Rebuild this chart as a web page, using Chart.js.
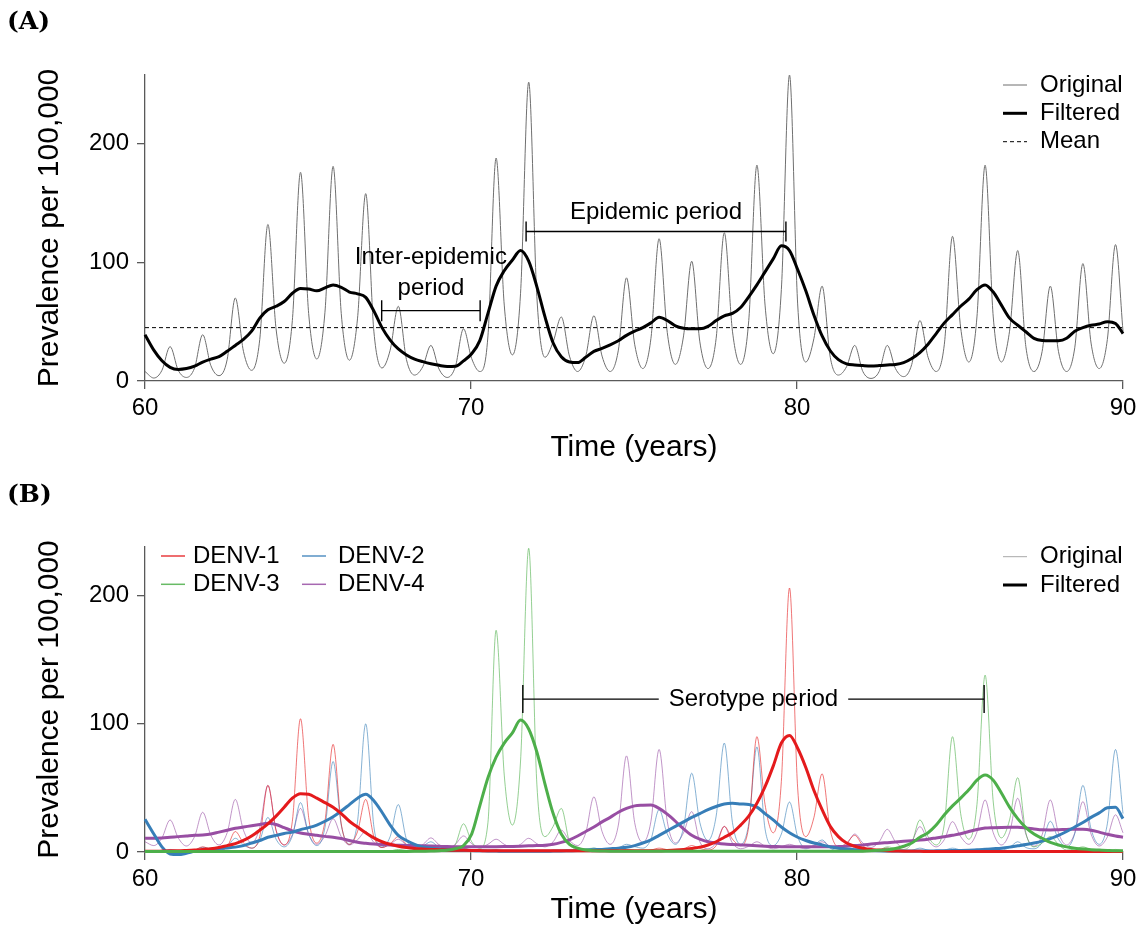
<!DOCTYPE html>
<html>
<head>
<meta charset="utf-8">
<title>Dengue prevalence</title>
<script src="https://cdn.jsdelivr.net/npm/chart.js@4.4.1/dist/chart.umd.min.js"></script>
<style>
  body { margin: 0; background: #fff; }
  canvas { display: block; }
</style>
</head>
<body>
<canvas id="panelA" width="1144" height="470"></canvas>
<canvas id="panelB" width="1144" height="456"></canvas>
<script>
// sample times (years), four per season: falling flank, trough, rising flank, peak
const t = [
  60.00, 60.27, 60.52, 60.77,
  61.02, 61.27, 61.52, 61.77,
  62.02, 62.27, 62.52, 62.77,
  63.02, 63.27, 63.52, 63.77,
  64.02, 64.27, 64.52, 64.77,
  65.02, 65.27, 65.52, 65.77,
  66.02, 66.27, 66.52, 66.77,
  67.02, 67.27, 67.52, 67.77,
  68.02, 68.27, 68.52, 68.77,
  69.02, 69.27, 69.52, 69.77,
  70.02, 70.27, 70.52, 70.77,
  71.02, 71.27, 71.52, 71.77,
  72.02, 72.27, 72.52, 72.77,
  73.02, 73.27, 73.52, 73.77,
  74.02, 74.27, 74.52, 74.77,
  75.02, 75.27, 75.52, 75.77,
  76.02, 76.27, 76.52, 76.77,
  77.02, 77.27, 77.52, 77.77,
  78.02, 78.27, 78.52, 78.77,
  79.02, 79.27, 79.52, 79.77,
  80.02, 80.27, 80.52, 80.77,
  81.02, 81.27, 81.52, 81.77,
  82.02, 82.27, 82.52, 82.77,
  83.02, 83.27, 83.52, 83.77,
  84.02, 84.27, 84.52, 84.77,
  85.02, 85.27, 85.52, 85.77,
  86.02, 86.27, 86.52, 86.77,
  87.02, 87.27, 87.52, 87.77,
  88.02, 88.27, 88.52, 88.77,
  89.02, 89.27, 89.52, 89.77,
  90.00
];

// (A) total prevalence per 100,000
const totalOriginal = [
  8, 2.5, 9, 29,
  9, 3, 11, 39,
  13, 4.5, 18, 70,
  25, 9, 35, 132,
  44, 15, 51, 176,
  57, 18.5, 58, 181,
  57, 17.5, 53, 158,
  42, 11, 26, 63,
  18, 5, 12, 30,
  10, 3, 12, 44,
  19, 8, 38, 188,
  64, 22, 74, 252,
  71, 20, 33, 54,
  21, 8, 21, 55,
  21, 8, 26, 87,
  31, 10.5, 36, 120,
  41, 14, 38, 101,
  33, 10.5, 36, 125,
  42, 14, 51, 182,
  64, 23, 77, 258,
  65, 16, 36, 80,
  20, 5, 12, 30,
  8, 2.2, 8, 30,
  10.5, 3.7, 14, 51,
  20, 8, 31, 122,
  45, 16, 54, 182,
  54, 16, 42, 110,
  29, 8, 25, 80,
  25, 8, 28, 99,
  32, 10.5, 35, 115,
  42
];
const totalFiltered = [
  39, 26, 17, 11.5,
  9.8, 10.5, 12.5, 16,
  18.5, 20.5, 25, 30,
  35, 42, 53, 60,
  63, 67, 74, 78,
  77.5, 76, 78.5, 81,
  79, 75, 73.5, 70.5,
  59, 45, 34.5, 27,
  22, 18.5, 16.3, 14.5,
  13.2, 12.3, 12.5, 17,
  23, 34, 57, 80,
  93, 102, 110, 101,
  79.6, 54, 32, 20.5,
  16, 15.5, 20, 25,
  27.5, 30.5, 34, 38.5,
  42, 45, 49, 53.7,
  51, 46.5, 44.5, 44,
  44, 46, 51, 55,
  57, 62, 71, 81,
  92, 103, 114, 110,
  94, 76, 55.5, 38,
  25.5, 18, 14.5, 13.5,
  13, 12.7, 13, 13.5,
  14, 15.5, 19, 24,
  31, 40, 49, 56,
  63, 69, 77, 81,
  75, 64, 53, 47,
  41.5, 36, 34.2, 34,
  34, 36, 42, 45,
  47, 48, 50, 48.5,
  40
];
const totalMean = 45;

// (B) prevalence by serotype
const denv1 = [
  1, 0.5, 0.7, 1,
  0.8, 0.5, 1.5, 4,
  2, 1, 4, 16,
  7, 3, 12, 52,
  17, 5.5, 24, 104,
  27, 7, 24, 84,
  22, 6, 16, 41,
  12, 3.5, 6.5, 12,
  6, 2, 3, 5,
  3, 1, 1.5, 2.5,
  1.5, 0.7, 1, 1.5,
  1, 0.5, 1, 1.5,
  1, 0.5, 0.8, 1,
  0.7, 0.5, 0.7, 1,
  0.7, 0.5, 1, 2,
  1.2, 0.7, 1.5, 3,
  1.8, 1, 2.2, 5,
  2.8, 1.5, 5, 20,
  10, 5, 20, 90,
  37, 15, 55, 206,
  50, 12, 27, 61,
  17, 4, 7, 13,
  5, 1.5, 2, 3,
  1.5, 0.5, 0.8, 1,
  0.6, 0.3, 0.4, 0.5,
  0.3, 0.2, 0.3, 0.4,
  0.3, 0.2, 0.3, 0.4,
  0.3, 0.2, 0.3, 0.4,
  0.3, 0.2, 0.3, 0.4,
  0.3, 0.2, 0.3, 0.4,
  0.3
];
const denv2 = [
  1, 0.5, 0.8, 2,
  1, 0.7, 1.5, 3.7,
  2.3, 1.5, 4, 10.7,
  5.5, 3, 9, 27,
  10, 4, 12.5, 38.5,
  14, 5, 19, 70.6,
  21, 6, 24, 100,
  20, 4, 12, 37,
  10, 2.5, 4.5, 8,
  3.5, 1, 1.7, 3,
  1.3, 0.5, 0.9, 1.5,
  0.8, 0.4, 0.6, 1,
  0.6, 0.4, 0.6, 1,
  0.8, 0.7, 1.4, 3,
  2.1, 1.5, 3, 6,
  4.2, 3, 10, 33,
  14, 6, 19, 61.5,
  23, 9, 28, 85,
  23, 6, 22, 82,
  18, 5, 14, 39,
  12, 3, 5.3, 9.4,
  3, 1, 1.7, 3,
  1.2, 0.5, 1.2, 3,
  1.2, 0.5, 1.2, 3,
  1.4, 0.7, 1.4, 3,
  1.6, 1, 1.7, 3,
  1.8, 1.5, 3.5, 8,
  3.5, 2.5, 7.7, 24,
  10, 4, 14.5, 52,
  18, 6, 22, 80,
  30
];
const denv3 = [
  0.3, 0.2, 0.2, 0.3,
  0.3, 0.2, 0.2, 0.3,
  0.3, 0.2, 0.2, 0.3,
  0.3, 0.2, 0.2, 0.3,
  0.3, 0.2, 0.2, 0.3,
  0.3, 0.2, 0.2, 0.3,
  0.3, 0.2, 0.3, 0.5,
  0.4, 0.3, 0.8, 2,
  1.2, 0.8, 1.8, 4,
  2.4, 1.5, 5.8, 22,
  8, 3, 23, 173,
  60, 21, 71, 237,
  53, 12, 20, 34,
  8, 2, 2.4, 3,
  1.5, 0.6, 0.8, 1,
  0.7, 0.4, 0.6, 0.8,
  0.7, 0.4, 0.6, 0.8,
  0.7, 0.4, 0.6, 0.8,
  0.7, 0.4, 0.6, 0.8,
  0.7, 0.4, 0.6, 0.8,
  0.7, 0.4, 0.6, 0.8,
  0.7, 0.4, 0.6, 0.8,
  0.6, 0.5, 1.4, 4,
  2.8, 2, 7, 25,
  12, 5.5, 22, 90,
  30, 10, 37, 138,
  39, 11, 25, 58,
  15, 4, 7, 12,
  6, 1.5, 2.4, 4,
  1.7, 0.7, 1.2, 2,
  1
];
const denv4 = [
  8, 5, 11, 25,
  11, 4.7, 12, 31,
  13, 5.5, 15, 41,
  17, 7, 19, 52,
  17, 5.5, 13.5, 34,
  14, 6, 12.5, 26,
  12, 5.5, 9.5, 16,
  7.5, 3.5, 6, 10,
  5.5, 3, 5.7, 11,
  5.7, 3, 6, 12.5,
  6.5, 3.5, 6, 10,
  6, 3.5, 6, 10.7,
  6.5, 4, 8, 17,
  9, 5, 15, 43,
  16, 6, 21, 75,
  23, 7.5, 24, 80,
  24, 7, 15, 31.5,
  8, 2.5, 7, 20,
  7, 2.5, 4.5, 8,
  4.5, 2.5, 4, 6,
  4, 2.5, 4.5, 8,
  4.5, 2.5, 6, 14,
  7, 3.5, 8, 17.7,
  8, 3.5, 8.3, 19.8,
  9, 4, 9.7, 23.7,
  12, 6, 15.6, 40.6,
  15, 5.5, 15, 41.9,
  14, 4.5, 13.5, 40.6,
  15, 5.5, 14.7, 39.3,
  14, 4.7, 11.7, 29,
  15
];
const denv1Filtered = [
  0.5, 0.5, 0.7, 1,
  1, 1.2, 1.5, 2,
  2.5, 3.5, 5, 6.5,
  9, 12.5, 17, 22,
  28, 35, 42, 45.5,
  45, 42, 38.5, 35,
  30, 24, 19.5, 15,
  11, 8, 6, 4.5,
  3.5, 2.8, 2.3, 2,
  1.8, 1.6, 1.4, 1.3,
  1.2, 1.1, 1, 1,
  1, 1, 1, 1,
  1, 1, 1, 1,
  1, 1, 1, 1,
  1, 1, 1, 1,
  1, 1, 1, 1,
  1.2, 1.5, 2, 2.8,
  3.8, 5.5, 8, 11.5,
  15, 21, 28, 38,
  51, 67, 85, 91,
  81, 66, 48, 33,
  20, 12, 7, 4.5,
  3, 2, 1.5, 1,
  0.8, 0.6, 0.5, 0.5,
  0.4, 0.4, 0.4, 0.4,
  0.4, 0.4, 0.4, 0.4,
  0.4, 0.4, 0.4, 0.4,
  0.4, 0.4, 0.4, 0.4,
  0.4, 0.4, 0.4, 0.4,
  0.4, 0.4, 0.4, 0.4,
  0.4
];
const denv2Filtered = [
  25.5, 14, 4, -1.5,
  -2, -1, 0.5, 1.5,
  2.2, 2.7, 3.2, 3.8,
  5, 7, 9, 11.5,
  13, 14.5, 15.5, 17.5,
  19, 21, 24, 27.5,
  32, 37, 42, 45,
  40, 31, 21, 13,
  9, 6, 4, 3,
  2.4, 2, 1.6, 1.3,
  1.1, 1, 0.8, 0.7,
  0.6, 0.6, 0.6, 0.6,
  0.6, 0.6, 0.7, 0.8,
  1, 1.2, 1.5, 1.8,
  2, 2.5, 3, 3.7,
  5, 7, 9.5, 13,
  16.5, 20, 23.5, 27,
  30, 33, 35.5, 37.5,
  38, 37.5, 37, 35,
  30, 25, 19.5, 15,
  11.5, 9, 7, 5.5,
  4, 3, 2.3, 1.8,
  1.4, 1.1, 0.9, 0.8,
  0.7, 0.7, 0.7, 0.8,
  0.8, 0.9, 1, 1.1,
  1.2, 1.4, 1.7, 2,
  2.5, 3, 3.8, 4.8,
  5.8, 7, 8.5, 10.5,
  13, 16, 19.5, 23,
  27, 30.5, 34.5, 35,
  26
];
const denv3Filtered = [
  0.3, 0.3, 0.3, 0.3,
  0.3, 0.3, 0.3, 0.3,
  0.3, 0.3, 0.3, 0.3,
  0.3, 0.3, 0.3, 0.3,
  0.3, 0.3, 0.3, 0.3,
  0.3, 0.3, 0.3, 0.3,
  0.3, 0.3, 0.3, 0.3,
  0.3, 0.3, 0.3, 0.3,
  0.4, 0.5, 0.6, 0.7,
  1, 1.4, 2.5, 5,
  14, 36, 58, 74,
  85, 93, 103, 96,
  78, 53, 30, 14,
  6, 3, 1.5, 1,
  0.8, 0.6, 0.5, 0.5,
  0.5, 0.5, 0.5, 0.5,
  0.5, 0.5, 0.5, 0.5,
  0.5, 0.5, 0.5, 0.5,
  0.5, 0.5, 0.5, 0.5,
  0.5, 0.5, 0.5, 0.5,
  0.5, 0.5, 0.5, 0.5,
  0.5, 0.5, 0.5, 0.5,
  0.6, 0.9, 1.3, 1.8,
  2.8, 4.5, 7, 11.5,
  15, 21, 29, 36,
  42, 48.5, 56, 60,
  56, 46, 35, 26,
  19, 14, 10.7, 7.5,
  5.5, 4, 3, 2.3,
  1.8, 1.5, 1.2, 1,
  1
];
const denv4Filtered = [
  10.7, 10.8, 11, 11.5,
  12, 12.5, 13, 13.3,
  14, 15.5, 17, 18.5,
  19.5, 20.5, 21.5, 22.5,
  21.5, 19, 16.5, 14.8,
  13.8, 13, 12.2, 11.5,
  10.5, 9, 7.6, 6.8,
  6.2, 5.8, 5.5, 5.3,
  5.1, 5, 4.8, 4.6,
  4.4, 4.2, 4.1, 4,
  4, 4, 4, 4.1,
  4.2, 4.3, 4.5, 4.8,
  5, 5.3, 6, 7.5,
  9.5, 12.5, 16, 19.5,
  23.5, 27, 31, 34,
  36, 36.5, 36.7, 34,
  29.5, 24, 18, 13,
  10, 8, 7, 6.2,
  5.8, 5.5, 5.2, 4.8,
  4.5, 4.3, 4.1, 4,
  4, 4, 4, 4,
  4, 4.2, 4.5, 5,
  5.5, 6.2, 6.8, 7.3,
  7.8, 8.3, 8.8, 9.3,
  10, 11, 12, 13,
  14.2, 16, 17.5, 18.7,
  19, 19.2, 19.3, 19.3,
  18.8, 18, 17.3, 17.2,
  17.4, 17.6, 17.8, 17.7,
  17, 15.5, 13.8, 12.5,
  11.5
];

const xTicks = [60, 70, 80, 90];
const yTicks = [0, 100, 200];

const FONT = '"Liberation Sans", Arial, Helvetica, sans-serif';
const AXIS = '#5a5a5a';
const RED = '#e41a1c', BLUE = '#377eb8', GREEN = '#4daf4a', PURPLE = '#984ea3';

const pts = ys => t.map((x, i) => ({ x: x, y: ys[i] }));

function fade(hex, a) {
  const n = parseInt(hex.slice(1), 16);
  return `rgba(${n >> 16}, ${(n >> 8) & 255}, ${n & 255}, ${a})`;
}

function line(data, color, width, extra) {
  return Object.assign({ data: data, borderColor: color, borderWidth: width, clip: false }, extra || {});
}

// horizontal bracket with end ticks, optionally broken around a label
function bracket(c, b) {
  const ctx = c.ctx;
  const x0 = c.scales.x.getPixelForValue(b.from);
  const x1 = c.scales.x.getPixelForValue(b.to);
  const y = c.scales.y.getPixelForValue(b.at);
  const mid = (x0 + x1) / 2;
  ctx.save();
  ctx.strokeStyle = '#000';
  ctx.lineWidth = 1.4;
  ctx.font = `24px ${FONT}`;
  ctx.beginPath();
  ctx.moveTo(x0, y - b.tick); ctx.lineTo(x0, y + b.tick);
  ctx.moveTo(x1, y - b.tick); ctx.lineTo(x1, y + b.tick);
  if (b.inline) {
    const w = ctx.measureText(b.inline).width / 2 + 10;
    ctx.moveTo(x0, y); ctx.lineTo(mid - w, y);
    ctx.moveTo(mid + w, y); ctx.lineTo(x1, y);
  } else {
    ctx.moveTo(x0, y); ctx.lineTo(x1, y);
  }
  ctx.stroke();
  ctx.fillStyle = '#000';
  ctx.textAlign = 'center';
  ctx.textBaseline = 'middle';
  if (b.inline) ctx.fillText(b.inline, mid, y);
  (b.above || []).forEach(([text, dy]) => ctx.fillText(text, mid, y + dy));
  ctx.restore();
}

function legendRow(ctx, x, y, textX, label, color, width, dash) {
  ctx.save();
  ctx.strokeStyle = color;
  ctx.lineWidth = width;
  ctx.setLineDash(dash || []);
  ctx.beginPath();
  ctx.moveTo(x, y); ctx.lineTo(x + 24, y);
  ctx.stroke();
  ctx.setLineDash([]);
  ctx.fillStyle = '#000';
  ctx.font = `24px ${FONT}`;
  ctx.textAlign = 'left';
  ctx.textBaseline = 'middle';
  ctx.fillText(label, textX, y);
  ctx.restore();
}

function panelLabel(ctx, text, y) {
  ctx.save();
  ctx.fillStyle = '#000';
  ctx.font = 'bold 25px "DejaVu Serif", "Liberation Serif", serif';
  ctx.textAlign = 'left';
  ctx.textBaseline = 'middle';
  ctx.fillText(text, 7, y);
  ctx.restore();
}

function makePanel(id, cfg) {
  return new Chart(document.getElementById(id), {
    type: 'line',
    data: { datasets: cfg.datasets },
    options: {
      responsive: false,
      animation: false,
      layout: { padding: { top: cfg.top, right: 21, left: 0, bottom: 0 } },
      elements: {
        point: { radius: 0 },
        line: { cubicInterpolationMode: 'monotone', tension: 0.4 }
      },
      plugins: { legend: { display: false }, tooltip: { enabled: false } },
      scales: {
        x: {
          type: 'linear', min: 60, max: 90,
          afterFit: s => { s.height = cfg.xHeight; },
          afterBuildTicks: s => { s.ticks = xTicks.map(v => ({ value: v })); },
          grid: { drawOnChartArea: false, drawTicks: true, tickLength: 8, color: AXIS, lineWidth: 1.3 },
          border: { display: true, color: AXIS, width: 1.3 },
          ticks: { color: '#000', font: { family: FONT, size: 24 }, padding: 5, maxRotation: 0 },
          title: {
            display: true, text: 'Time (years)', color: '#000',
            font: { family: FONT, size: 30, lineHeight: 1 },
            padding: { top: 0, bottom: cfg.xTitlePad }
          }
        },
        y: {
          type: 'linear', min: 0, max: cfg.yMax,
          afterFit: s => { s.width = 145; },
          afterBuildTicks: s => { s.ticks = yTicks.map(v => ({ value: v })); },
          grid: { drawOnChartArea: false, drawTicks: true, tickLength: 8, color: AXIS, lineWidth: 1.3 },
          border: { display: true, color: AXIS, width: 1.3 },
          ticks: { color: '#000', font: { family: FONT, size: 24 }, padding: 8 },
          title: {
            display: true, text: 'Prevalence per 100,000', color: '#000',
            font: { family: FONT, size: 30, lineHeight: 1 },
            padding: { top: 35, bottom: 0 }
          }
        }
      }
    },
    plugins: [{ id: id + 'Notes', afterDraw: cfg.notes }]
  });
}

// (A) total prevalence with its filtered trend
makePanel('panelA', {
  top: 75, xHeight: 89, yMax: 258, xTitlePad: 7,
  datasets: [
    line(pts(totalFiltered), '#000', 3),
    line([{ x: 60, y: totalMean }, { x: 90, y: totalMean }], '#000', 1, { borderDash: [4, 3] }),
    line(pts(totalOriginal), '#6f6f6f', 1)
  ],
  notes: c => {
    const ctx = c.ctx;
    panelLabel(ctx, '(A)', 22);
    bracket(c, { from: 67.26, to: 70.28, at: 59.3, tick: 10.5,
      above: [['Inter-epidemic', -53], ['period', -22]] });
    bracket(c, { from: 71.69, to: 79.66, at: 126, tick: 10,
      above: [['Epidemic period', -19]] });
    legendRow(ctx, 1003, 85, 1040, 'Original', '#6f6f6f', 1);
    legendRow(ctx, 1003, 113.3, 1040, 'Filtered', '#000', 3);
    legendRow(ctx, 1003, 141.7, 1040, 'Mean', '#000', 1, [4, 3]);
  }
});

// (B) the four serotypes
makePanel('panelB', {
  top: 77, xHeight: 74, yMax: 238, xTitlePad: 1,
  datasets: [
    line(pts(denv3Filtered), GREEN, 3),
    line(pts(denv1Filtered), RED, 3),
    line(pts(denv2Filtered), BLUE, 3),
    line(pts(denv4Filtered), PURPLE, 3),
    line(pts(denv1), fade(RED, 0.6), 1),
    line(pts(denv3), fade(GREEN, 0.6), 1),
    line(pts(denv2), fade(BLUE, 0.6), 1),
    line(pts(denv4), fade(PURPLE, 0.6), 1)
  ],
  notes: c => {
    const ctx = c.ctx;
    panelLabel(ctx, '(B)', 25);
    bracket(c, { from: 71.59, to: 85.74, at: 119.3, tick: 14, inline: 'Serotype period' });
    legendRow(ctx, 161, 86, 193, 'DENV-1', fade(RED, 0.85), 1.5);
    legendRow(ctx, 161, 114.3, 193, 'DENV-3', fade(GREEN, 0.85), 1.5);
    legendRow(ctx, 302, 86, 338, 'DENV-2', fade(BLUE, 0.85), 1.5);
    legendRow(ctx, 302, 114.3, 338, 'DENV-4', fade(PURPLE, 0.85), 1.5);
    legendRow(ctx, 1003, 86.7, 1040, 'Original', '#a8a8a8', 1);
    legendRow(ctx, 1003, 115, 1040, 'Filtered', '#000', 3);
  }
});
</script>
</body>
</html>
